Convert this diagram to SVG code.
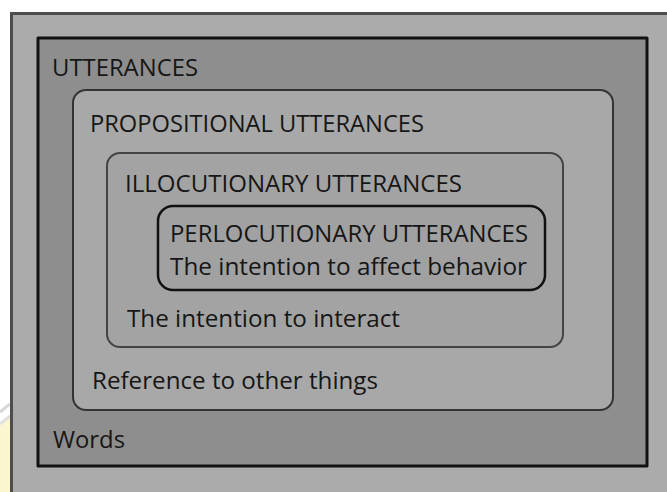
<svg xmlns="http://www.w3.org/2000/svg" width="667" height="492" viewBox="0 0 667 492">
<style>
text{font-family:"Open Sans","Noto Sans",sans-serif;font-size:24px;fill:#161616}
.box{stroke-linejoin:round}
</style>
<rect x="0" y="0" width="667" height="492" fill="#ffffff"/>
<polygon points="0,425 10,418 10,492 0,492" fill="#fbf6d0"/>
<line x1="0" y1="412" x2="10" y2="404" stroke="#d8d8d8" stroke-width="3"/>
<line x1="0" y1="424" x2="10" y2="416" stroke="#e0e0e0" stroke-width="3"/>
<g id="panel">
<rect x="11.5" y="13.5" width="660" height="485" fill="#ababab" stroke="#4d4d4d" stroke-width="3"/>
</g>
<g id="utterances">
<rect class="box" x="38" y="38" width="609" height="428" fill="#8e8e8e" stroke="#111" stroke-width="3"/>
<text x="52" y="76" textLength="146" lengthAdjust="spacingAndGlyphs">UTTERANCES</text>
<text x="53" y="448" textLength="72" lengthAdjust="spacingAndGlyphs">Words</text>
</g>
<g id="propositional">
<rect class="box" x="73" y="90" width="540" height="320" rx="13" fill="#a8a8a8" stroke="#333" stroke-width="2"/>
<text x="90" y="132" textLength="334" lengthAdjust="spacingAndGlyphs">PROPOSITIONAL UTTERANCES</text>
<text x="92" y="389" textLength="286" lengthAdjust="spacingAndGlyphs">Reference to other things</text>
</g>
<g id="illocutionary">
<rect class="box" x="107" y="153" width="456" height="194" rx="13" fill="#a3a3a3" stroke="#444" stroke-width="2"/>
<text x="125" y="192" textLength="337" lengthAdjust="spacingAndGlyphs">ILLOCUTIONARY UTTERANCES</text>
<text x="127" y="327" textLength="273" lengthAdjust="spacingAndGlyphs">The intention to interact</text>
</g>
<g id="perlocutionary">
<rect class="box" x="158" y="206" width="387" height="84" rx="15" fill="#a1a1a1" stroke="#111" stroke-width="2.5"/>
<text x="170" y="242" textLength="358" lengthAdjust="spacingAndGlyphs">PERLOCUTIONARY UTTERANCES</text>
<text x="170" y="275" textLength="357" lengthAdjust="spacingAndGlyphs">The intention to affect behavior</text>
</g>
<g id="connectors"/>
</svg>
